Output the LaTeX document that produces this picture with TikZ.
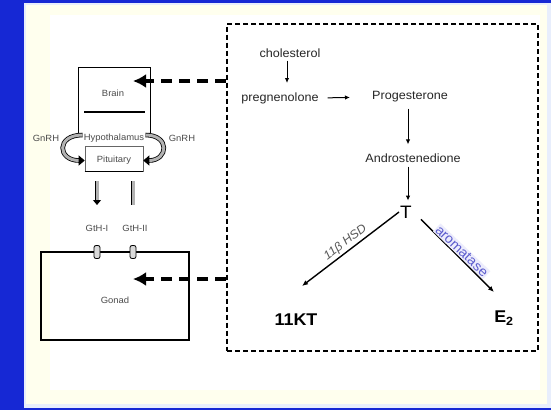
\documentclass[tikz,border=0pt]{standalone}
\usepackage{fontspec}
\setmainfont{Liberation Sans}[FakeStretch=1.05]
\usepackage{tikz}
\usetikzlibrary{arrows.meta}

\definecolor{frameblue}{RGB}{22,40,212}
\definecolor{edgeblue}{RGB}{232,238,252}
\definecolor{paper}{RGB}{255,255,238}
\definecolor{enzblue}{RGB}{92,92,205}
\definecolor{enzbg}{RGB}{236,236,252}

\tikzset{
  lbl/.style={font=\fontsize{9}{10}\selectfont, text=black!70, inner sep=1pt},
  steroid/.style={font=\fontsize{12}{14}\selectfont, text=black!85, inner sep=1pt},
  product/.style={font=\bfseries\fontsize{17}{19}\selectfont, inner sep=1pt},
  stepline/.style={line width=1pt, -{Latex[length=5pt,width=4.5pt]}},
  convert/.style={line width=1.4pt, -{Latex[length=6pt,width=5pt]}},
  hollow/.style={draw=black, line width=0.8pt, double=black!30, double distance=3pt},
  feedback/.style={line width=3.5pt, dash pattern=on 11pt off 7pt, -{Latex[length=13pt,width=14pt]}},
  receptor/.style={draw, line width=0.8pt, fill=black!15, rounded corners=2pt, minimum width=6pt, minimum height=13pt, inner sep=0pt}
}

\begin{document}
\begin{tikzpicture}[x=1pt, y=-1pt]
    % frame
    \fill[frameblue] (0,0) rectangle (551,410);
    \fill[edgeblue] (24,3) rectangle (551,408);
    \fill[paper] (26,5) rectangle (547,404);
    \fill[white] (50,15) rectangle (540,390);

    % hypothalamus - pituitary
    \node[minimum width=71pt, minimum height=67pt, inner sep=0pt] (brain) at (114.5,101.5) {};
    \draw[line width=1.3pt] (brain.south west) |- (brain.north east) -- (brain.south east);
    \node[lbl] (brainlbl) at (113,93) {Brain};
    \draw[line width=1.3pt] (84,112) -- (145,112);
    \node[lbl] (hypo) at (114,138) {Hypothalamus};
    \node[draw=black!60, line width=0.6pt, minimum width=58pt, minimum height=25pt, inner sep=0pt] (pit) at (114,158.5) {};
    \draw[line width=1.5pt] (pit.south west) -- (pit.south east);
    \node[lbl] (pitlbl) at (114,160) {Pituitary};
    \node[lbl] (gnrhl) at (46,138) {GnRH};
    \node[lbl] (gnrhr) at (182,138) {GnRH};
    \draw[hollow, -{Triangle[length=6pt,width=10pt]}] ([yshift=3pt]hypo.west) .. controls +(-27pt,0) and +(-27pt,0) .. ([yshift=-2pt]pit.west);
    \draw[hollow, -{Triangle[length=6pt,width=10pt]}] ([yshift=3pt]hypo.east) .. controls +(25pt,0) and +(25pt,0) .. ([yshift=-2pt]pit.east);

    % gonad
    \node[draw, line width=1.5pt, minimum width=148pt, minimum height=88pt, inner sep=0pt] (gonad) at (115,296) {};
    \node[lbl] (gonadlbl) at (115,300) {Gonad};
    \node[lbl] (gth1) at (97,228) {GtH-I};
    \node[lbl] (gth2) at (135,228) {GtH-II};
    \node[receptor] (r1) at (97,252) {};
    \node[receptor] (r2) at (133,252) {};
    \draw[hollow, -{Triangle[length=5pt,width=8pt]}, shorten <=10pt, shorten >=23pt] (r1 |- pit.south) -- (r1 |- gth1);
    \draw[hollow, shorten <=10pt, shorten >=23pt] (r2 |- pit.south) -- (r2 |- gth2);

    % steroid pathway
    \node[draw, line width=2pt, dash pattern=on 5pt off 3pt, minimum width=311pt, minimum height=327pt, inner sep=0pt] (pathway) at (382.5,187) {};
    \node[steroid] (chol) at (290,53) {cholesterol};
    \node[steroid] (preg) at (280,98) {pregnenolone};
    \node[steroid] (prog) at (410,97) {Progesterone};
    \node[steroid] (andro) at (413,158) {Androstenedione};
    \node[font=\fontsize{18}{20}\selectfont, inner sep=1pt] (t) at (406,212) {T};
    \node[product] (kt) at (296,320) {11KT};
    \node[product] (e2) at (504,318) {E\textsubscript{2}};
    \coordinate (ktin) at (302,286);
    \coordinate (e2in) at (494,292);

    \draw[stepline, shorten <=2pt, shorten >=1pt] (chol.south -| 287,0) -- (287,84);
    \draw[stepline, shorten <=8pt, shorten >=21pt] (preg.east) -- (prog.west);
    \draw[stepline, shorten <=5pt, shorten >=8pt] (prog.south -| 408,0) -- (andro.north -| 408,0);
    \draw[stepline, shorten <=3pt, shorten >=4pt] (andro.south -| 408,0) -- (t.north -| 408,0);
    \draw[convert] (t.west) -- (ktin)
        node[pos=.5, rotate=37.5, anchor=south, inner sep=2pt, font=\itshape\fontsize{12}{14}\selectfont, text=black!65] {11β\ HSD};
    \draw[convert] ([xshift=8pt]t.south east) -- (e2in)
        node[pos=.5, rotate=-43.7, anchor=south, inner sep=1pt, fill=enzbg, text=enzblue, font=\fontsize{13.5}{15}\selectfont] {aromatase};

    % feedback
    \coordinate (brainin) at (133,81);
    \coordinate (gonadin) at (133,279);
    \draw[feedback] (pathway.west |- brainin) -- (brainin);
    \draw[feedback] (pathway.west |- gonadin) -- (gonadin);
\end{tikzpicture}
\end{document}
